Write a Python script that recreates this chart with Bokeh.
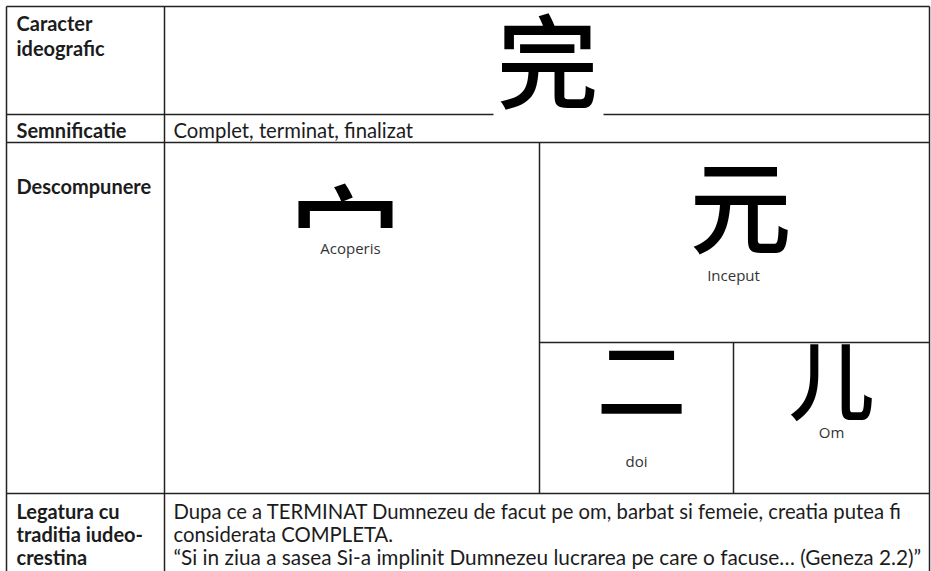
from bokeh.plotting import figure
from bokeh.models import Range1d
from bokeh.core.properties import value
from bokeh.embed import file_html
from bokeh.resources import INLINE

# ---- content (data) ----
main_char = ["完"]
main_meaning = ["Complet, terminat, finalizat"]
row_labels = ["Caracter", "ideografic", "Semnificatie", "Descompunere",
              "Legatura cu", "traditia iudeo-", "crestina"]
component_chars = ["宀", "元", "二", "儿"]
component_names = ["Acoperis", "Inceput", "doi", "Om"]
tradition_lines = [
    "Dupa ce a TERMINAT Dumnezeu de facut pe om, barbat si femeie, creatia putea fi",
    "considerata COMPLETA.",
    "\u201cSi in ziua a sasea Si-a implinit Dumnezeu lucrarea pe care o facuse\u2026 (Geneza 2.2)\u201d",
]

# ---- layout (positions in reference pixel space) ----
label_x = [16] * 7
label_y = [22, 47, 129, 185, 510, 533, 556]
comp_cx = [345, 740, 641, 831]
comp_cy = [229, 201, 374, 376]
comp_size = ["112px", "102px", "90px", "86px"]
name_cx = [350, 733, 636, 831]
name_cy = [247, 274, 460, 431]
trad_y = [510, 533, 556]
trad_size = ["20.3px", "20.3px", "20.8px"]

seg_x0 = [6, 6, 929, 164, 6, 603, 6, 539, 539, 733, 6]
seg_y0 = [6, 6, 6, 6, 114, 114, 142, 142, 342, 342, 493]
seg_x1 = [929, 6, 929, 164, 493, 929, 929, 539, 929, 733, 929]
seg_y1 = [6, 580, 580, 580, 114, 114, 142, 493, 342, 493, 493]

W, H = 931, 571
p = figure(width=W, height=H, output_backend="svg", toolbar_location=None,
           x_range=Range1d(0, W), y_range=Range1d(H, 0),
           x_axis_type=None, y_axis_type=None, min_border=0,
           background_fill_color="white", border_fill_color="white")
p.grid.visible = False
p.outline_line_color = None

p.segment(x0=seg_x0, y0=seg_y0, x1=seg_x1, y1=seg_y1,
          line_color="#222222", line_width=1.5)

TXT = "#1c1c1c"
BODY_FONT = value("Lato")
CJK_FONT = value("'Noto Sans CJK SC Medium', 'Noto Sans CJK SC'")

p.text(x=label_x, y=label_y, text=row_labels, text_font=BODY_FONT,
       text_font_size="20px", text_font_style="bold", text_color=TXT,
       text_align="left", text_baseline="middle")

p.text(x=[173], y=[129], text=main_meaning, text_font=BODY_FONT,
       text_font_size="20.3px", text_color=TXT,
       text_align="left", text_baseline="middle")

for ty, tline, tsz in zip(trad_y, tradition_lines, trad_size):
    p.text(x=[173], y=[ty], text=[tline], text_font=BODY_FONT,
           text_font_size=tsz, text_color=TXT,
           text_align="left", text_baseline="middle")

p.text(x=[547], y=[56], text=main_char, text_font=CJK_FONT,
       text_font_size="102px", text_color="black",
       text_align="center", text_baseline="middle")

for cx, cy, ch, sz in zip(comp_cx, comp_cy, component_chars, comp_size):
    p.text(x=[cx], y=[cy], text=[ch], text_font=CJK_FONT,
           text_font_size=sz, text_color="black",
           text_align="center", text_baseline="middle")

p.text(x=name_cx, y=name_cy, text=component_names, text_font=value("Open Sans"),
       text_font_size="15px", text_color="#333333",
       text_align="center", text_baseline="middle")

open("out.html", "w").write(file_html(p, INLINE))
